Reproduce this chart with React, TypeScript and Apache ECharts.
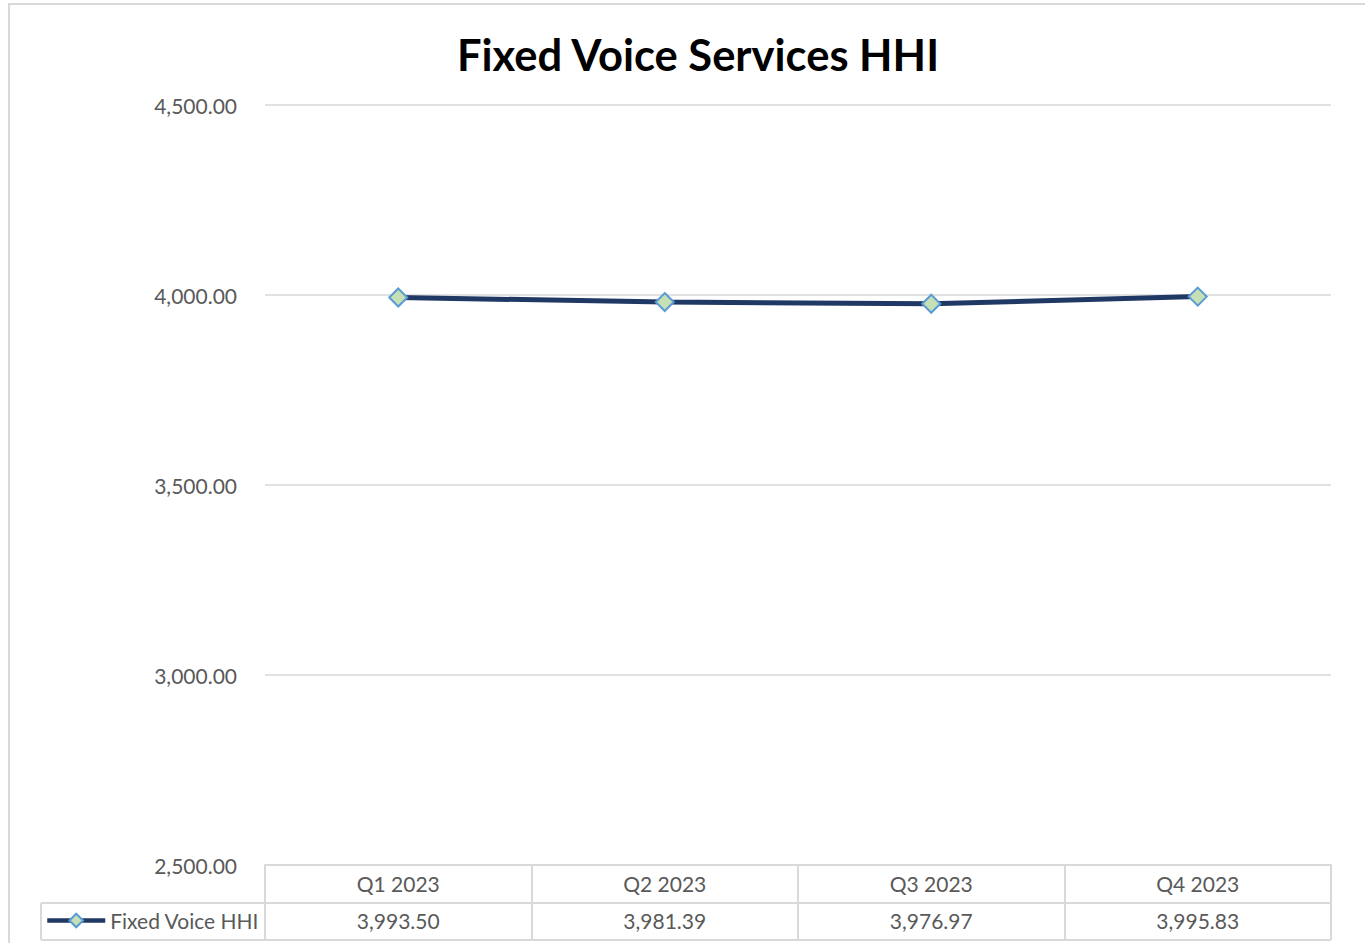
import React, { useEffect, useRef } from "react";
import * as echarts from "echarts";

const TITLE = "Fixed Voice Services HHI";
const SERIES_NAME = "Fixed Voice HHI";
const categories = ["Q1 2023", "Q2 2023", "Q3 2023", "Q4 2023"];
const values = [3993.5, 3981.39, 3976.97, 3995.83];
const yMin = 2500;
const yMax = 4500;
const yInterval = 500;

const fmt = (v: number) =>
  v.toLocaleString("en-US", { minimumFractionDigits: 2, maximumFractionDigits: 2 });

const FONT = "Lato, 'Open Sans', sans-serif";
const GRID_COLOR = "#d9d9d9";
const TEXT_COLOR = "#595959";
const LINE_COLOR = "#203864";

export default function App() {
  const ref = useRef<HTMLDivElement>(null);
  useEffect(() => {
    if (!ref.current) return;
    const chart = echarts.init(ref.current, null, { renderer: "svg" });
    const gridLeft = 265;
    const gridRight = 1331;
    const gridTop = 105;
    const gridBottom = 865;
    chart.setOption({
      animation: false,
      backgroundColor: "#ffffff",
      textStyle: { fontFamily: FONT },
      title: {
        text: TITLE,
        left: 693,
        textAlign: "center",
        top: 27,
        textStyle: { fontFamily: FONT, fontSize: 43.5, fontWeight: "bold", color: "#000000" },
      },
      legend: {
        show: true,
        left: 45,
        top: 910,
        padding: 0,
        itemWidth: 58,
        itemHeight: 17,
        itemGap: 4,
        textStyle: { fontFamily: FONT, fontSize: 21, color: TEXT_COLOR },
        lineStyle: { width: 4.5, color: LINE_COLOR },
        data: [SERIES_NAME],
      },
      grid: { left: gridLeft, right: 1365 - gridRight, top: gridTop, bottom: 943 - gridBottom, containLabel: false },
      xAxis: [
        {
          type: "category",
          data: categories,
          position: "bottom",
          boundaryGap: true,
          axisLine: { show: true, lineStyle: { color: GRID_COLOR, width: 2 } },
          axisTick: { show: true, length: 75, interval: 0, lineStyle: { color: GRID_COLOR, width: 2 } },
          axisLabel: { margin: 8, fontFamily: FONT, fontSize: 21, color: TEXT_COLOR, interval: 0 },
        },
        {
          type: "category",
          data: values.map(fmt),
          position: "bottom",
          offset: 37,
          boundaryGap: true,
          axisLine: { show: false },
          axisTick: { show: false },
          axisLabel: { margin: 8, fontFamily: FONT, fontSize: 21, color: TEXT_COLOR, interval: 0 },
        },
      ],
      yAxis: {
        type: "value",
        min: yMin,
        max: yMax,
        interval: yInterval,
        axisLine: { show: false },
        axisTick: { show: false },
        axisLabel: { margin: 28, fontFamily: FONT, fontSize: 21, color: TEXT_COLOR, formatter: (v: number) => fmt(v) },
        splitLine: { show: true, lineStyle: { color: GRID_COLOR, width: 1.5 } },
      },
      series: [
        {
          name: SERIES_NAME,
          type: "line",
          xAxisIndex: 0,
          data: values,
          symbol: "diamond",
          symbolSize: 18,
          lineStyle: { color: LINE_COLOR, width: 5 },
          itemStyle: { color: "#c5e0b4", borderColor: "#5b9bd5", borderWidth: 2 },
          emphasis: { disabled: true },
          z: 5,
        },
      ],
      graphic: [
        {
          type: "rect",
          shape: { x: 9, y: 4, width: 1400, height: 1000 },
          style: { fill: "none", stroke: GRID_COLOR, lineWidth: 2 },
          silent: true,
        },
        {
          type: "line",
          shape: { x1: 41, y1: 903, x2: gridRight, y2: 903 },
          style: { stroke: GRID_COLOR, lineWidth: 2 },
          silent: true,
        },
        {
          type: "line",
          shape: { x1: 41, y1: 940, x2: gridRight, y2: 940 },
          style: { stroke: GRID_COLOR, lineWidth: 2 },
          silent: true,
        },
        {
          type: "line",
          shape: { x1: 41, y1: 903, x2: 41, y2: 940 },
          style: { stroke: GRID_COLOR, lineWidth: 2 },
          silent: true,
        },
      ],
    });
    return () => chart.dispose();
  }, []);
  return (
    <div
      ref={ref}
      style={{ position: "fixed", left: 0, top: 0, width: 1365, height: 943, background: "#fff" }}
    />
  );
}
